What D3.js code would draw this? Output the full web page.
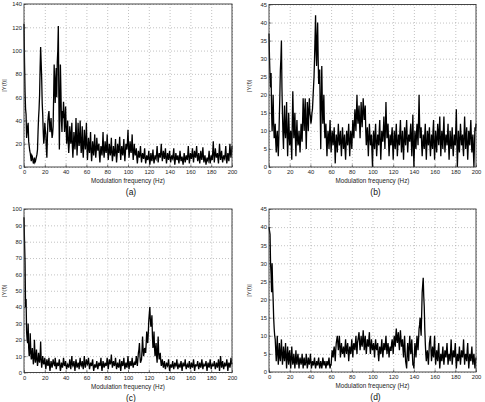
<!DOCTYPE html>
<html>
<head>
<meta charset="utf-8">
<script src="https://d3js.org/d3.v7.min.js"></script>
<style>
  body { margin: 0; background: #fff; }
  svg { display: block; font-family: "Liberation Sans", Arial, sans-serif; }
</style>
</head>
<body>
<svg id="chart" width="485" height="402"></svg>
<script>
// Modulation spectra |Y(f)|, sampled every 0.5 Hz from 0 to 200 Hz (one row = 10 Hz)
const freq = d3.range(0, 200.5, 0.5);

const magA = [
  123,90,65,50,45,25,30,35,38,22,18,14,12,8,5,10,9,6,3,5,
  8,4,5,7,9,11,15,30,42,50,62,85,103,90,76,55,45,30,20,25,
  38,32,28,15,8,25,40,45,48,38,30,35,42,32,25,28,35,60,88,70,
  55,75,85,60,90,100,121,60,15,50,88,65,40,30,48,42,56,45,30,38,
  52,35,20,28,40,22,12,20,35,28,20,26,38,18,8,18,30,22,15,25,
  42,25,10,20,38,26,18,24,40,22,12,20,35,15,8,20,32,22,15,24,
  38,18,6,14,25,18,12,20,30,14,5,12,22,16,10,18,28,15,8,14,
  25,18,14,17,20,10,4,12,18,14,10,18,30,15,8,14,22,16,12,18,
  28,14,6,12,20,15,10,16,25,12,5,10,18,12,9,15,24,12,4,10,
  20,15,12,18,26,14,6,12,18,13,10,16,24,12,5,12,20,16,15,22,
  32,18,8,14,22,16,12,18,28,14,6,12,20,14,10,12,16,8,3,8,
  14,10,8,12,18,10,4,8,12,9,7,11,16,8,3,6,10,8,6,9,
  14,7,2,6,12,8,5,9,15,8,3,6,10,8,7,12,18,10,4,8,
  12,10,8,13,20,11,5,9,14,10,7,11,16,8,3,7,12,9,6,10,
  14,8,4,7,10,8,7,11,16,7,2,6,12,9,6,8,10,6,3,8,
  14,9,5,7,9,5,2,7,12,8,4,7,10,8,6,11,18,9,3,7,
  12,9,7,11,16,9,4,9,14,10,8,12,18,10,5,8,12,7,3,8,
  14,9,6,11,17,9,4,7,10,6,2,5,8,6,5,9,14,7,3,6,
  10,8,6,13,22,11,4,10,16,11,8,10,12,7,3,11,20,12,6,10,
  14,8,4,7,10,8,7,12,18,9,3,7,12,8,5,12,20,13,8,12,
  18];

const magB = [
  37,30,25,22,26,15,10,14,20,12,8,9,12,7,4,8,10,6,3,8,
  14,20,27,30,35,22,15,9,5,12,17,10,8,12,18,9,3,8,15,10,
  6,8,10,6,2,12,21,14,8,11,15,8,3,9,13,8,6,7,10,7,
  4,8,12,9,7,13,19,14,10,15,19,11,5,12,18,14,10,16,19,15,
  14,12,13,15,16,19,22,25,30,36,42,32,28,36,40,30,23,26,27,15,
  5,18,28,18,12,16,20,12,8,10,12,7,3,7,10,8,5,9,13,8,
  4,7,10,8,6,9,11,6,1,6,9,7,4,8,12,8,6,8,10,6,
  3,7,11,8,5,7,9,5,2,6,10,8,6,9,12,7,3,7,10,8,
  5,9,13,10,8,12,16,13,10,15,20,14,12,15,17,12,8,13,18,14,
  11,15,19,16,13,15,17,10,6,9,11,7,3,8,12,9,6,8,9,4,
  0,6,10,7,5,9,12,7,3,6,9,8,6,10,13,7,2,6,10,8,
  7,10,14,9,5,11,18,12,8,10,12,7,3,6,9,7,6,9,11,6,
  2,6,10,7,5,9,12,7,3,6,9,8,6,10,13,8,4,7,10,6,
  2,7,11,8,6,10,13,8,4,7,9,8,7,10,12,7,3,9,14.5,6,
  0,5,10,7,5,9,12,9,6,13,20,12,8,10,11,6,3,6,9,7,
  5,9,12,6,2,6,10,8,6,9,11,6,3,6,9,7,5,10,13,6,
  2,6,10,7,4,8,12,9,6,10,14,8,3,7,10,7,5,10,14,8,
  4,7,9,8,6,9,12,6,2,6,10,7,5,8,11,6,3,6,9,7,
  6,11,16,7,0,5,10,6,4,8,12,9,6,7,9,5,3,9,14,9,
  5,8,11,6,2,6,10,8,6,10,13,8,4,7,9,4,0,6,11,10,
  12];

const magC = [
  95,80,68,40,45,25,20,18,30,15,10,12,24,14,8,9,15,10,5,8,
  20,12,6,9,14,8,4,7,12,8,6,10,19,8,3,6,10,7,5,6,
  9,5,2,5,8,6,4,6,9,4,1,4,7,5,3,5,8,6,5,4,
  9,6,2,4,6,5,4,6,8,4,1,3,6,5,3,5,9,6,4,5,
  7,4,2,4,5,4,3,5,8,5,2,6,10,5,4,5,7,4,1,5,
  8,5,3,4,6,5,2,6,9,5,4,5,7,4,2,6,10,5,3,5,
  8,6,5,6,9,5,2,4,6,5,4,6,8,4,1,3,5,4,3,5,
  7,4,2,4,6,5,4,6,9,4,1,4,7,5,3,4,6,5,4,6,
  9,5,2,5,8,6,5,7,11,6,3,5,7,5,4,6,9,5,2,4,
  6,4,3,5,8,4,1,4,7,5,4,6,9,5,2,4,6,4,3,6,
  10,5,2,5,7,5,4,6,9,5,3,5,6,5,5,7,10,6,4,8,
  12,14,18,10,6,7,8,14,22,15,10,12,15,13,12,18,25,20,18,24,
  32,36,40,32,28,30,35,22,15,18,25,15,10,14,18,10,6,14,22,12,
  8,9,12,7,4,6,8,5,3,5,7,4,2,4,6,5,4,5,8,4,
  1,3,5,4,3,5,7,4,2,4,6,5,4,5,8,4,2,4,5,4,
  3,5,7,4,1,4,6,4,4,5,8,4,2,4,5,4,3,5,7,4,
  2,4,6,4,3,5,8,5,1,3,5,4,4,5,7,4,2,4,6,4,
  3,5,8,5,2,4,5,4,4,5,7,4,1,4,6,4,3,5,8,5,
  2,4,5,4,4,5,7,4,2,4,6,5,3,5,8,5,1,5,10,6,
  3,5,7,4,2,4,6,4,4,5,8,5,1,4,6,5,3,5,9,6,
  5];

const magD = [
  40,39,38,30,27,22,30,24,20,15,12,10,9,6,3,6,10,5,2,5,
  8,4,3,6,9,5,2,4,7,5,3,5,8,4,1,4,7,4,2,5,
  6,3,1,4,7,4,2,3,5,3,1,3,6,3,2,4,5,3,1,3,
  4,3,2,3,5,3,1,3,4,2,2,3,5,3,1,2,4,3,2,3,
  5,3,1,2,3,2,2,3,4,2,1,2,3,2,2,3,4,2,1,2,
  3,2,1,2,4,3,2,2,3,2,1,2,3,2,2,3,4,2,1,2,
  2,4,6,5,4,6,7,5,3,6,8,9,10,8,6,8,10,7,4,6,
  8,6,5,6,7,5,4,7,9,6,5,7,8,6,3,5,7,6,5,7,
  9,6,4,7,8,7,6,8,10,7,5,8,9,10,11,8,6,8,10,8,
  7,9,11.5,9,6,8,10,7,5,7,9,8,7,9,11,7,5,7,9,7,
  6,7,8,6,4,7,9,7,6,7,8,5,3,5,7,6,5,7,9,6,
  4,6,8,7,6,8,10,7,5,7,8,6,4,6,7,6,6,8,9,7,
  5,8,10,8,7,10,12,9,8,10,11,8,6,9,11.5,9,7,8,9,6,
  4,7,10,6,3,2,1,5,8,5,3,7,10,7,5,7,9,5,2,2,
  1,5,8,6,4,7,10,8,6,9,12,13,15,12,10,16,22,24,26,21,
  18,12,8,5,3,5,6,4,2,5,8,9,10,6,3,5,7,5,4,7,
  10,5,2,4,6,4,3,6,8,4,1,3,5,4,3,5,7,4,2,4,
  6,5,4,6,8,5,2,4,5,4,3,6,9,5,2,4,6,5,4,6,
  8,4,1,3,5,4,3,5,7,4,2,4,6,5,4,6,9,5,2,4,
  5,4,3,6,8,4,1,3,5,4,3,5,7,4,2,4,5,3,1,3,
  4];

const xTicks = [0, 20, 40, 60, 80, 100, 120, 140, 160, 180, 200];
const yTicksA = [0, 20, 40, 60, 80, 100, 120, 140];
const yTicksB = [0, 5, 10, 15, 20, 25, 30, 35, 40, 45];
const yTicksC = [0, 10, 20, 30, 40, 50, 60, 70, 80, 90, 100];
const yTicksD = [0, 5, 10, 15, 20, 25, 30, 35, 40, 45];

const captions = ["(a)", "(b)", "(c)", "(d)"];
const xLabel = "Modulation frequency (Hz)";
const yLabel = "|Y(f)|";

// panel boxes in page pixels
const panels = [
  { values: magA, yMax: 140, yTicks: yTicksA, left: 24,  right: 232, top: 4,   bottom: 167 },
  { values: magB, yMax: 45,  yTicks: yTicksB, left: 269, right: 476, top: 4.5, bottom: 167 },
  { values: magC, yMax: 100, yTicks: yTicksC, left: 24,  right: 232, top: 209, bottom: 372.5 },
  { values: magD, yMax: 45,  yTicks: yTicksD, left: 269, right: 476, top: 209, bottom: 372 }
];

const svg = d3.select("#chart");

panels.forEach((p, k) => {
  const w = p.right - p.left;
  const h = p.bottom - p.top;
  const x = d3.scaleLinear().domain([0, 200]).range([0, w]);
  const y = d3.scaleLinear().domain([0, p.yMax]).range([h, 0]);

  const g = svg.append("g").attr("transform", `translate(${p.left},${p.top})`);

  // dotted grid
  g.append("g")
    .attr("transform", `translate(0,${h})`)
    .call(d3.axisBottom(x).tickValues(xTicks).tickSize(-h).tickFormat(""))
    .call(s => s.select(".domain").remove())
    .selectAll("line")
    .attr("stroke", "#999")
    .attr("stroke-width", 0.6)
    .attr("stroke-dasharray", "1,2");

  g.append("g")
    .call(d3.axisLeft(y).tickValues(p.yTicks).tickSize(-w).tickFormat(""))
    .call(s => s.select(".domain").remove())
    .selectAll("line")
    .attr("stroke", "#999")
    .attr("stroke-width", 0.6)
    .attr("stroke-dasharray", "1,2");

  // spectrum line
  const line = d3.line()
    .x((d, i) => x(freq[i]))
    .y(d => y(d));

  g.append("path")
    .datum(p.values)
    .attr("fill", "none")
    .attr("stroke", "#000")
    .attr("stroke-width", 1.3)
    .attr("d", line);

  // axes with inward ticks
  const xAxis = g.append("g")
    .attr("transform", `translate(0,${h})`)
    .call(d3.axisBottom(x).tickValues(xTicks).tickSizeInner(-2.5).tickSizeOuter(0).tickPadding(3));
  const yAxis = g.append("g")
    .call(d3.axisLeft(y).tickValues(p.yTicks).tickSizeInner(-2.5).tickSizeOuter(0).tickPadding(2));

  [xAxis, yAxis].forEach(a => {
    a.select(".domain").remove();
    a.selectAll("line").attr("stroke", "#222").attr("stroke-width", 0.6);
    a.selectAll("text")
      .attr("font-size", 5.8)
      .attr("font-family", "Liberation Sans, Arial, sans-serif")
      .attr("fill", "#222");
  });

  // box
  g.append("rect")
    .attr("width", w)
    .attr("height", h)
    .attr("fill", "none")
    .attr("stroke", "#333")
    .attr("stroke-width", 0.9);

  // labels
  g.append("text")
    .attr("x", w / 2)
    .attr("y", h + 16)
    .attr("text-anchor", "middle")
    .attr("font-size", 6.3)
    .attr("fill", "#222")
    .text(xLabel);

  g.append("text")
    .attr("transform", `translate(-18,${h / 2}) rotate(-90)`)
    .attr("text-anchor", "middle")
    .attr("font-size", 5.8)
    .attr("fill", "#222")
    .text(yLabel);

  g.append("text")
    .attr("x", w / 2 + 3)
    .attr("y", h + 28)
    .attr("text-anchor", "middle")
    .attr("font-size", 8.5)
    .attr("fill", "#111")
    .text(captions[k]);
});
</script>
</body>
</html>
